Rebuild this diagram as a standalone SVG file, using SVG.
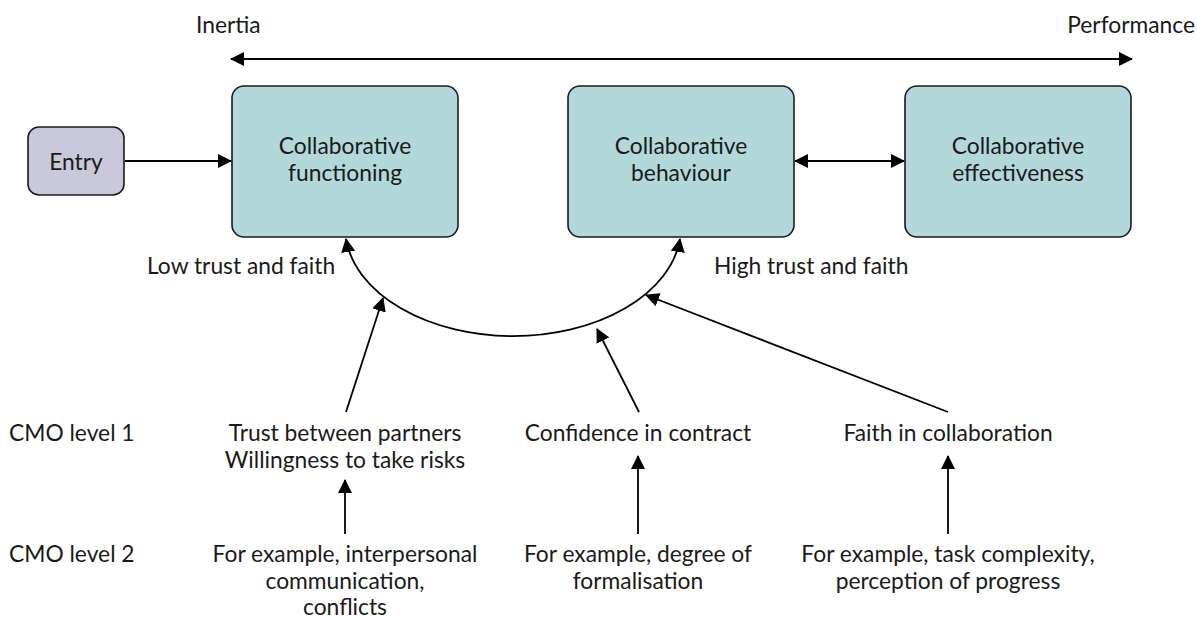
<svg xmlns="http://www.w3.org/2000/svg" width="1197" height="618" viewBox="0 0 1197 618">
<defs>
<style>
text{font-family:Lato,"Open Sans","Liberation Sans",sans-serif;font-size:22.8px;fill:#1a1a1a}
.c{text-anchor:middle}
.box{fill:#b2d8da;stroke:#1a1a1a;stroke-width:1.6}
.entry{fill:#c9c9db;stroke:#1a1a1a;stroke-width:1.6}
.ln{fill:none;stroke:#000;stroke-width:1.8}
.top{stroke-width:2.2}
</style>
<marker id="ah" viewBox="0 0 14 14" refX="13" refY="7" markerWidth="14" markerHeight="14" markerUnits="userSpaceOnUse" orient="auto-start-reverse">
<path d="M0,0 L14,7 L0,14 Z" fill="#000"/>
</marker>
</defs>
<rect width="1197" height="618" fill="#fff"/>
<g id="labels-top">
<text x="196" y="33">Inertia</text>
<text x="1195" y="33" text-anchor="end">Performance</text>
</g>
<g id="entry">
<rect class="entry" x="28" y="127" width="96" height="68" rx="11"/>
<text class="c" x="76" y="170">Entry</text>
</g>
<g id="functioning">
<rect class="box" x="232" y="86" width="226" height="151" rx="12"/>
<text class="c" x="345" y="154">Collaborative</text>
<text class="c" x="345" y="181">functioning</text>
</g>
<g id="behaviour">
<rect class="box" x="568" y="86" width="226" height="151" rx="12"/>
<text class="c" x="681" y="154">Collaborative</text>
<text class="c" x="681" y="181">behaviour</text>
</g>
<g id="effectiveness">
<rect class="box" x="905" y="86" width="226" height="151" rx="12"/>
<text class="c" x="1018" y="154">Collaborative</text>
<text class="c" x="1018" y="181">effectiveness</text>
</g>
<g id="trust-labels">
<text x="147" y="274">Low trust and faith</text>
<text x="714" y="274">High trust and faith</text>
</g>
<g id="cmo1">
<text x="9" y="441">CMO level 1</text>
<text class="c" x="345" y="441">Trust between partners</text>
<text class="c" x="345" y="468">Willingness to take risks</text>
<text class="c" x="638" y="441">Confidence in contract</text>
<text class="c" x="948" y="441">Faith in collaboration</text>
</g>
<g id="cmo2">
<text x="9" y="562">CMO level 2</text>
<text class="c" x="345" y="562">For example, interpersonal</text>
<text class="c" x="345" y="589">communication,</text>
<text class="c" x="345" y="615">conflicts</text>
<text class="c" x="638" y="562">For example, degree of</text>
<text class="c" x="638" y="589">formalisation</text>
<text class="c" x="948" y="562">For example, task complexity,</text>
<text class="c" x="948" y="589">perception of progress</text>
</g>
<g id="connectors">
<line class="ln top" x1="231" y1="59" x2="1132" y2="59" marker-start="url(#ah)" marker-end="url(#ah)"/>
<line class="ln" x1="125" y1="161" x2="231" y2="161" marker-end="url(#ah)"/>
<line class="ln" x1="795" y1="161" x2="904" y2="161" marker-start="url(#ah)" marker-end="url(#ah)"/>
<path class="ln" d="M346,239 A168,109 0 0 0 680,239" marker-start="url(#ah)" marker-end="url(#ah)"/>
<line class="ln" x1="346" y1="412" x2="383" y2="298" marker-end="url(#ah)"/>
<line class="ln" x1="639" y1="412" x2="597" y2="329" marker-end="url(#ah)"/>
<line class="ln" x1="948" y1="412" x2="646" y2="295" marker-end="url(#ah)"/>
<line class="ln" x1="345" y1="534" x2="345" y2="480" marker-end="url(#ah)"/>
<line class="ln" x1="638" y1="534" x2="638" y2="456" marker-end="url(#ah)"/>
<line class="ln" x1="948" y1="534" x2="948" y2="456" marker-end="url(#ah)"/>
</g>
</svg>
